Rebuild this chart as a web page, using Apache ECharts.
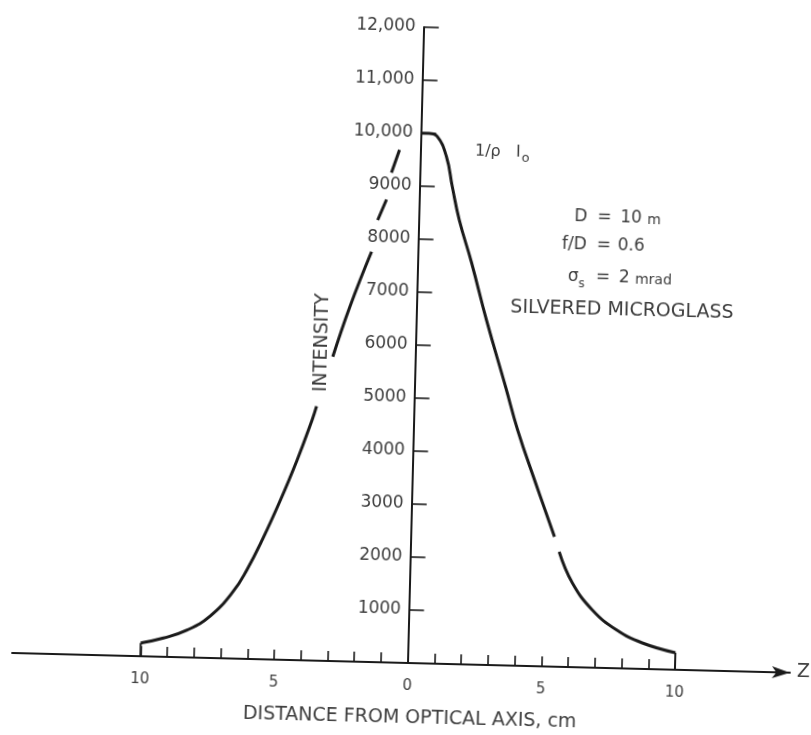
<!DOCTYPE html>
<html>
<head>
<meta charset="utf-8">
<script src="https://cdn.jsdelivr.net/npm/echarts@6/dist/echarts.min.js"></script>
<style>
html,body{margin:0;padding:0;background:#fff;overflow:hidden;}
#chart{width:811px;height:735px;transform-origin:408px 663px;transform:rotate(1.45deg);}
</style>
</head>
<body>
<div id="chart"></div>
<script>
// Intensity profile (null = break in the drawn curve)
const curveX = [-10, -9.16, -8.28, -7.43, -6.6, -6.1, -5.53, -4.93, -4.33, -3.81, -3.65, null,
  -3.09, -2.5, -1.74, null, -1.54, -1.23, null, -1.07, -0.79, null,
  0, 0.3, 0.6, 0.97, 1.22, 1.51, 2.01, 2.62, 3.40, 3.89, 4.61, 5.37, null,
  5.56, 6.08, 6.85, 7.77, 8.75, 10];
const curveY = [250, 353, 515, 790, 1260, 1680, 2280, 2990, 3770, 4530, 4800, null,
  5740, 6690, 7740, null, 8340, 8730, null, 9240, 9675, null,
  10000, 10000, 9950, 9570, 9000, 8380, 7580, 6510, 5255, 4450, 3460, 2450, null,
  2170, 1590, 1090, 725, 490, 320];
// vertical end lines at the edges of the curve
const edgeX = [-10, -10, null, 10, 10];
const edgeY = [0, 250, null, 320, 0];

const xTickValues = [-10,-9,-8,-7,-6,-5,-4,-3,-2,-1,0,1,2,3,4,5,6,7,8,9,10];
const xLabelValues = [-10, -5, 0, 5, 10];
const yTickValues = [1000,2000,3000,4000,5000,6000,7000,8000,9000,10000,11000,12000];

const X_MIN = -14.8, X_MAX = 14.3;
const GRID_LEFT = 12, GRID_RIGHT = 21;

const FONT = '"DejaVu Sans", sans-serif';
const TXT = '#3e3e3e';
const LINE = '#1a1a1a';

function pairs(xs, ys) {
  return xs.map((x, i) => (x === null || ys[i] === null) ? [null, null] : [x, ys[i]]);
}

const chart = echarts.init(document.getElementById('chart'), null, {renderer: 'canvas'});
const plotW = 811 - GRID_LEFT - GRID_RIGHT;
const yAxisShift = (0 - X_MIN) / (X_MAX - X_MIN) * plotW;  // move y axis onto x = 0

const option = {
  animation: false,
  backgroundColor: '#fff',
  grid: {left: GRID_LEFT, right: GRID_RIGHT, top: 27, bottom: 72, containLabel: false, outerBoundsMode: 'none'},
  xAxis: {
    type: 'value', min: X_MIN, max: X_MAX,
    name: 'DISTANCE FROM OPTICAL AXIS, cm',
    nameLocation: 'middle', nameGap: 46,
    nameTextStyle: {fontFamily: FONT, fontSize: 19, color: TXT, padding: [0, 0, 0, 20]},
    axisLine: {onZero: false, symbol: ['none', 'arrow'], symbolSize: [9, 18],
      lineStyle: {color: LINE, width: 2}},
    axisTick: {inside: true, length: 10, customValues: xTickValues,
      lineStyle: {color: LINE, width: 1.6}},
    axisLabel: {customValues: xLabelValues, margin: 16,
      formatter: v => String(Math.abs(v)),
      fontFamily: FONT, fontSize: 15, color: TXT},
    splitLine: {show: false}
  },
  yAxis: {
    type: 'value', min: 0, max: 12000, interval: 1000,
    position: 'left', offset: -yAxisShift,
    name: 'INTENSITY', nameLocation: 'middle', nameRotate: 90, nameGap: 84,
    nameTextStyle: {fontFamily: FONT, fontSize: 19, color: TXT},
    axisLine: {onZero: false, lineStyle: {color: LINE, width: 2}},
    axisTick: {inside: true, length: 15, customValues: yTickValues,
      lineStyle: {color: LINE, width: 1.6}},
    axisLabel: {customValues: yTickValues, margin: 8,
      formatter: v => v >= 10000 ? (Math.floor(v/1000) + ',' + String(v % 1000).padStart(3, '0')) : String(v),
      fontFamily: FONT, fontSize: 17, color: TXT},
    splitLine: {show: false}
  },
  series: [
    {type: 'line', data: pairs(curveX, curveY), showSymbol: false, smooth: 0.45,
      connectNulls: false, lineStyle: {color: LINE, width: 3}},
    {type: 'line', data: pairs(edgeX, edgeY), showSymbol: false,
      connectNulls: false, lineStyle: {color: LINE, width: 2}}
  ],
  graphic: [
    {type: 'text', x: 462, y: 150, style: {
      text: '{a|1/ρ   I}{b|o}', fill: TXT, verticalAlign: 'middle', align: 'left',
      rich: {a: {fontFamily: FONT, fontSize: 16, fill: TXT},
             b: {fontFamily: FONT, fontSize: 13, fill: TXT, padding: [12, 0, 0, 1]}}}},
    {type: 'text', x: 576, y: 213, style: {text: 'D', font: '17px ' + FONT, fill: TXT, align: 'right', verticalAlign: 'middle'}},
    {type: 'text', x: 593, y: 213, style: {text: '=', font: '17px ' + FONT, fill: TXT, align: 'center', verticalAlign: 'middle'}},
    {type: 'text', x: 609, y: 213, style: {text: '{a|10 }{b|m}', verticalAlign: 'middle', align: 'left',
      rich: {a: {fontFamily: FONT, fontSize: 17, fill: TXT}, b: {fontFamily: FONT, fontSize: 14, fill: TXT, padding: [3, 0, 0, 0]}}}},
    {type: 'text', x: 576, y: 241, style: {text: 'f/D', font: '17px ' + FONT, fill: TXT, align: 'right', verticalAlign: 'middle'}},
    {type: 'text', x: 593, y: 241, style: {text: '=', font: '17px ' + FONT, fill: TXT, align: 'center', verticalAlign: 'middle'}},
    {type: 'text', x: 607, y: 241, style: {text: '0.6', font: '17px ' + FONT, fill: TXT, align: 'left', verticalAlign: 'middle'}},
    {type: 'text', x: 575, y: 273, style: {text: '{a|σ}{b|s}', align: 'right', verticalAlign: 'middle',
      rich: {a: {fontFamily: FONT, fontSize: 17, fill: TXT}, b: {fontFamily: FONT, fontSize: 12, fill: TXT, padding: [14, 0, 0, 0]}}}},
    {type: 'text', x: 593, y: 273, style: {text: '=', font: '17px ' + FONT, fill: TXT, align: 'center', verticalAlign: 'middle'}},
    {type: 'text', x: 609, y: 273, style: {text: '{a|2 }{b|mrad}', verticalAlign: 'middle', align: 'left',
      rich: {a: {fontFamily: FONT, fontSize: 17, fill: TXT}, b: {fontFamily: FONT, fontSize: 14, fill: TXT, padding: [2, 0, 0, 0]}}}},
    {type: 'text', x: 613, y: 305, style: {text: 'SILVERED MICROGLASS', font: '19px ' + FONT, fill: TXT, align: 'center', verticalAlign: 'middle'}},
    {type: 'text', x: 797, y: 662, style: {text: 'Z', font: '19px ' + FONT, fill: TXT, align: 'left', verticalAlign: 'middle'}}
  ]
};
chart.setOption(option);
</script>
</body>
</html>
